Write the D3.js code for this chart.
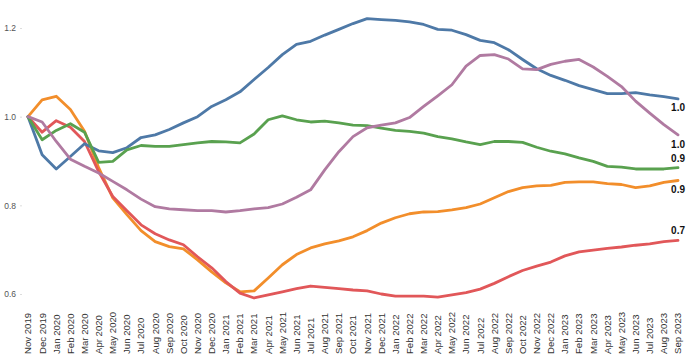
<!DOCTYPE html>
<html>
<head>
<meta charset="utf-8">
<script src="https://cdn.jsdelivr.net/npm/d3@7"></script>
<style>
  html, body { margin: 0; padding: 0; background: #fff; }
  svg { display: block; }
  text { font-family: Arial, "Liberation Sans", sans-serif; }
</style>
</head>
<body>
<svg id="chart" width="688" height="364"></svg>
<script>
// ---- data ----
const months = ["Nov 2019","Dec 2019","Jan 2020","Feb 2020","Mar 2020","Apr 2020","May 2020","Jun 2020","Jul 2020","Aug 2020","Sep 2020","Oct 2020","Nov 2020","Dec 2020","Jan 2021","Feb 2021","Mar 2021","Apr 2021","May 2021","Jun 2021","Jul 2021","Aug 2021","Sep 2021","Oct 2021","Nov 2021","Dec 2021","Jan 2022","Feb 2022","Mar 2022","Apr 2022","May 2022","Jun 2022","Jul 2022","Aug 2022","Sep 2022","Oct 2022","Nov 2022","Dec 2022","Jan 2023","Feb 2023","Mar 2023","Apr 2023","May 2023","Jun 2023","Jul 2023","Aug 2023","Sep 2023"];

const yTicks = [0.6, 0.8, 1.0, 1.2];

const seriesBlue = [1.000,0.914,0.882,0.910,0.939,0.923,0.919,0.930,0.953,0.959,0.971,0.986,1.000,1.023,1.038,1.056,1.084,1.111,1.140,1.163,1.170,1.184,1.197,1.210,1.221,1.219,1.217,1.214,1.208,1.197,1.195,1.185,1.172,1.167,1.151,1.129,1.108,1.093,1.082,1.070,1.061,1.052,1.052,1.054,1.049,1.045,1.040];
const seriesOrange = [1.000,1.038,1.046,1.016,0.967,0.885,0.817,0.779,0.743,0.718,0.707,0.702,0.677,0.650,0.625,0.605,0.607,0.636,0.666,0.689,0.704,0.713,0.720,0.729,0.743,0.760,0.772,0.781,0.785,0.786,0.790,0.795,0.803,0.817,0.831,0.840,0.844,0.845,0.852,0.853,0.853,0.849,0.847,0.840,0.844,0.852,0.856];
const seriesRed = [1.000,0.965,0.991,0.976,0.944,0.876,0.820,0.788,0.756,0.736,0.722,0.711,0.684,0.659,0.628,0.602,0.591,0.598,0.605,0.612,0.618,0.615,0.612,0.609,0.607,0.600,0.595,0.595,0.595,0.593,0.598,0.603,0.611,0.624,0.639,0.653,0.663,0.672,0.686,0.695,0.699,0.703,0.706,0.710,0.713,0.718,0.721];
const seriesGreen = [1.000,0.948,0.969,0.984,0.965,0.897,0.899,0.925,0.935,0.933,0.933,0.937,0.941,0.944,0.943,0.941,0.961,0.993,1.002,0.993,0.988,0.990,0.986,0.981,0.980,0.974,0.969,0.967,0.963,0.955,0.950,0.943,0.937,0.944,0.944,0.942,0.931,0.922,0.916,0.907,0.899,0.888,0.886,0.882,0.882,0.882,0.885];
const seriesPurple = [1.000,0.988,0.944,0.904,0.888,0.873,0.854,0.835,0.814,0.797,0.792,0.790,0.788,0.788,0.785,0.788,0.792,0.795,0.803,0.818,0.835,0.880,0.921,0.955,0.975,0.981,0.986,0.998,1.023,1.047,1.072,1.114,1.138,1.140,1.130,1.108,1.106,1.118,1.125,1.129,1.112,1.091,1.068,1.035,1.008,0.982,0.959];

// ---- styling (draw order: bottom to top) ----
const series = [
  { name: "Orange", values: seriesOrange, color: "#f28e2b", labelDy: 9 },
  { name: "Red",    values: seriesRed,    color: "#e15759", labelDy: -10 },
  { name: "Blue",   values: seriesBlue,   color: "#4e79a7", labelDy: 9 },
  { name: "Green",  values: seriesGreen,  color: "#59a14f", labelDy: -9 },
  { name: "Purple", values: seriesPurple, color: "#b07aa1", labelDy: 10 }
];

const svg = d3.select("#chart");

const x = d3.scalePoint().domain(months).range([28, 678]);
const y = d3.scaleLinear().domain([0.6, 1.2]).range([294, 28]);

// y axis labels
const yAxis = svg.append("g").attr("transform", "translate(22,0)")
  .call(d3.axisLeft(y).tickValues(yTicks).tickFormat(d3.format(".1f")).tickSize(2).tickPadding(4));
yAxis.select(".domain").remove();
yAxis.selectAll(".tick line").attr("stroke", "#ddd");
yAxis.selectAll(".tick text").attr("fill", "#555").style("font-size", "8.5px")
  .style("font-family", "Arial, 'Liberation Sans', sans-serif");

// x axis labels (rotated, bottom-aligned)
const xAxis = svg.append("g").attr("transform", "translate(0,354)");
xAxis.selectAll("text").data(months).enter().append("text")
  .attr("transform", d => `translate(${x(d)},0) rotate(-90)`)
  .attr("dy", "0.35em")
  .attr("text-anchor", "start")
  .attr("fill", "#333")
  .style("font-size", "9.6px")
  .text(d => d);

// lines
const line = d3.line()
  .x((d, i) => x(months[i]))
  .y(d => y(d));

svg.append("g").selectAll("path").data(series).enter().append("path")
  .attr("d", d => line(d.values))
  .attr("fill", "none")
  .attr("stroke", d => d.color)
  .attr("stroke-width", 2.8)
  .attr("stroke-linejoin", "round")
  .attr("stroke-linecap", "round");

// end labels
svg.append("g").selectAll("text").data(series).enter().append("text")
  .attr("x", 685)
  .attr("y", d => y(d.values[d.values.length - 1]) + d.labelDy)
  .attr("dy", "0.35em")
  .attr("text-anchor", "end")
  .attr("fill", "#111")
  .style("font-size", "10px")
  .style("font-weight", "bold")
  .text(d => d3.format(".1f")(d.values[d.values.length - 1]));
</script>
</body>
</html>
